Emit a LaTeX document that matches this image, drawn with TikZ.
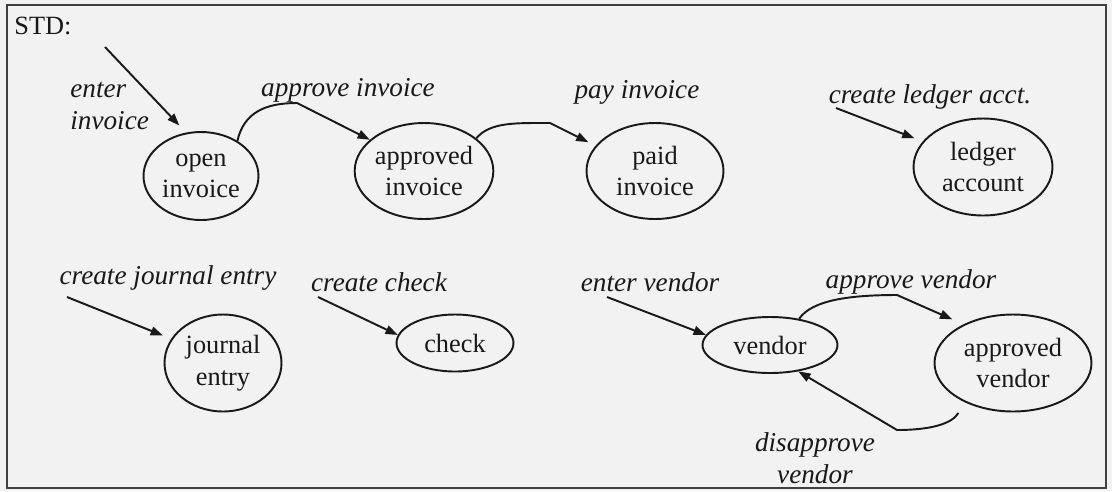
\documentclass[tikz,border=0pt]{standalone}
\usepackage{fontspec}
\setmainfont{Liberation Serif}
\usetikzlibrary{shapes.geometric,arrows.meta}

\begin{document}
\begin{tikzpicture}[x=0.02cm, y=-0.02cm,
        state/.style={ellipse, draw=black!90, line width=1.1pt, inner sep=0pt, align=center,
            text=black!90, font=\fontsize{15}{18}\selectfont},
        act/.style={inner sep=0pt, text=black!90, font=\fontsize{15.5}{18}\selectfont\itshape},
        flow/.style={draw=black!90, line width=1.1pt, -{Triangle[length=7pt,width=5pt]}}]
        \fill[black!5] (0,0) rectangle (1112,491);
        \useasboundingbox (0,0) rectangle (1112,491);
        \draw[black!75, line width=0.8pt] (7,5) rectangle (1106,488);
        \node[anchor=west, inner sep=0pt, text=black!90, font=\fontsize{15}{18}\selectfont] (std) at (14,26) {STD:};

        % states
        \node[state, minimum width=2.3cm, minimum height=1.76cm] (open) at (201,176) {open\\invoice};
        \node[state, minimum width=2.74cm, minimum height=1.92cm] (apprinv) at (424,171) {approved\\invoice};
        \node[state, minimum width=2.74cm, minimum height=1.92cm] (paid) at (655,171) {paid\\invoice};
        \node[state, minimum width=2.78cm, minimum height=1.94cm] (ledger) at (983,167) {ledger\\account};
        \node[state, minimum width=2.34cm, minimum height=1.94cm] (journal) at (223,363) {journal\\entry};
        \node[state, minimum width=2.34cm, minimum height=1.14cm] (check) at (455,343) {check};
        \node[state, minimum width=2.7cm, minimum height=1.12cm] (vendor) at (770,345) {vendor};
        \node[state, minimum width=3.14cm, minimum height=1.94cm] (apprvend) at (1013,363) {approved\\vendor};

        % events
        \node[act, anchor=west, align=left] (lEnterInv) at (70,106) {enter\\invoice};
        \node[act] (lApprInv) at (348,90) {approve invoice};
        \node[act] (lPay) at (637,92) {pay invoice};
        \node[act] (lLedger) at (930,97) {create ledger acct.};
        \node[act] (lJournal) at (168,278) {create journal entry};
        \node[act] (lCheck) at (379,282) {create check};
        \node[act] (lVendor) at (650,282) {enter vendor};
        \node[act] (lApprVend) at (911,282) {approve vendor};
        \node[act, align=center] (lDisappr) at (815,458) {disapprove\\vendor};

        \coordinate (sEnterInv) at (105,47);
        \coordinate (sLedger) at (836,108);
        \coordinate (sJournal) at (67,297);
        \coordinate (sCheck) at (318,297);
        \coordinate (sVendor) at (607,297);

        \draw[flow, shorten >=5.5pt] (sEnterInv) -- (open.109);
        \draw[flow] (open.44) .. controls (244,112) and (266,103) .. (297,103) -- (apprinv.150);
        \draw[flow, shorten >=4.5pt] (apprinv.32) .. controls (490,122) and (515,123) .. (550,123) -- (paid.157);
        \draw[flow, shorten >=5pt] (sLedger) -- (ledger.157);
        \draw[flow, shorten >=5pt] (sJournal) -- (journal.155);
        \draw[flow] (sCheck) -- (check.172);
        \draw[flow] (sVendor) -- (vendor.171);
        \draw[flow, shorten >=7pt] (vendor.42) .. controls (812,300) and (850,295) .. (897,295) -- (apprvend.142);
        \draw[flow, shorten <=7pt] (apprvend.219) .. controls (952,424) and (930,430) .. (897,430) -- (vendor.-43);
    \end{tikzpicture}
\end{document}
